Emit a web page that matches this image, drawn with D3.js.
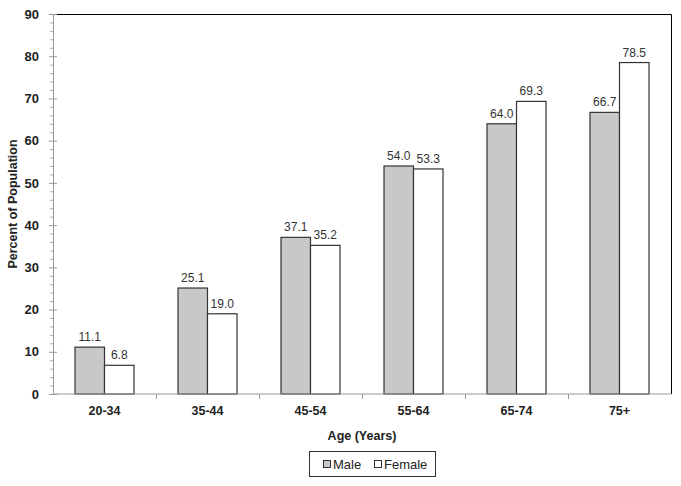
<!DOCTYPE html>
<html>
<head>
<meta charset="utf-8">
<script src="https://cdn.jsdelivr.net/npm/d3@7"></script>
<style>
  body { margin: 0; background: #fff; }
  svg { font-family: "Liberation Sans", Arial, sans-serif; }
</style>
</head>
<body>
<div id="main"></div>
<script>
var ageGroups = ['20-34', '35-44', '45-54', '55-64', '65-74', '75+'];
var seriesNames = ['Male', 'Female'];
var maleValues = [11.1, 25.1, 37.1, 54.0, 64.0, 66.7];
var femaleValues = [6.8, 19.0, 35.2, 53.3, 69.3, 78.5];
var yTicks = [0, 10, 20, 30, 40, 50, 60, 70, 80, 90];

var colors = { Male: '#c8c8c8', Female: '#ffffff' };

var W = 681, H = 486;
var margins = { top: 14, left: 53, right: 10, bottom: 92 };
var width = W - margins.left - margins.right,
    height = H - margins.top - margins.bottom;

var rows = ageGroups.map(function(g, i) {
    return { group: g, Male: maleValues[i], Female: femaleValues[i] };
});

var x0 = d3.scaleBand().domain(ageGroups).range([0, width]).padding(0);
var pairWidth = 59;
var x1 = d3.scaleBand().domain(seriesNames)
    .range([x0.bandwidth() / 2 - pairWidth / 2, x0.bandwidth() / 2 + pairWidth / 2]);
var y = d3.scaleLinear().domain([0, 90]).range([height, 0]);

var svg = d3.select('#main').append('svg')
    .attr('width', W).attr('height', H);
var chart = svg.append('g')
    .attr('transform', 'translate(' + margins.left + ',' + margins.top + ')');

// frame (top + right black)
chart.append('path')
    .attr('d', 'M0,0.5 L' + (width + 0.5) + ',0.5 L' + (width + 0.5) + ',' + height)
    .style('fill', 'none').style('stroke', '#000').style('stroke-width', 1);

// bars
var groups = chart.selectAll('.grp').data(rows).enter().append('g')
    .attr('class', 'grp')
    .attr('transform', function(d) { return 'translate(' + x0(d.group) + ',0)'; });

groups.selectAll('rect').data(function(d) {
    return seriesNames.map(function(s) { return { key: s, value: d[s] }; });
}).enter().append('rect')
    .attr('x', function(d) { return x1(d.key); })
    .attr('y', function(d) { return y(d.value); })
    .attr('width', x1.bandwidth())
    .attr('height', function(d) { return height - y(d.value); })
    .style('fill', function(d) { return colors[d.key]; })
    .style('stroke', '#333')
    .style('stroke-width', 1.2);

groups.selectAll('.val').data(function(d) {
    return seriesNames.map(function(s) { return { key: s, value: d[s] }; });
}).enter().append('text')
    .attr('class', 'val')
    .attr('x', function(d) { return x1(d.key) + x1.bandwidth() / 2; })
    .attr('y', function(d) { return y(d.value) - 6; })
    .style('text-anchor', 'middle')
    .style('font-size', '12px')
    .style('fill', '#333')
    .text(function(d) { return d.value.toFixed(1); });

// y axis
var yAxis = d3.axisLeft(y).tickValues(yTicks).tickSize(4).tickPadding(10);
var yg = chart.append('g').call(yAxis);
yg.select('.domain').style('stroke', '#999');
yg.selectAll('.tick line').attr('x2', 4).attr('x1', -4).style('stroke', '#999');
yg.selectAll('.tick text').style('font-size', '13px').style('font-weight', 'bold').style('fill', '#222');

var minor = d3.range(0, 90, 2).filter(function(v) { return v % 10 !== 0; });
chart.append('g').selectAll('line').data(minor).enter().append('line')
    .attr('x1', -3).attr('x2', 0)
    .attr('y1', function(d) { return y(d) + 0.5; })
    .attr('y2', function(d) { return y(d) + 0.5; })
    .style('stroke', '#aaa');

// x axis
var xg = chart.append('g').attr('transform', 'translate(0,' + height + ')');
xg.append('line').attr('x1', 0).attr('x2', width).attr('y1', 0).attr('y2', 0)
    .style('stroke', '#999');
xg.selectAll('.sep').data(ageGroups.slice(1)).enter().append('line')
    .attr('class', 'sep')
    .attr('x1', function(d) { return x0(d) + 0.5; })
    .attr('x2', function(d) { return x0(d) + 0.5; })
    .attr('y1', 0).attr('y2', 5)
    .style('stroke', '#999');
xg.selectAll('.lbl').data(ageGroups).enter().append('text')
    .attr('class', 'lbl')
    .attr('x', function(d) { return x0(d) + x0.bandwidth() / 2; })
    .attr('y', 21)
    .style('text-anchor', 'middle')
    .style('font-size', '12.5px').style('font-weight', 'bold').style('fill', '#222')
    .text(function(d) { return d; });

// axis titles
chart.append('text')
    .attr('x', width / 2).attr('y', height + 46)
    .style('text-anchor', 'middle')
    .style('font-size', '12.5px').style('font-weight', 'bold').style('fill', '#222')
    .text('Age (Years)');

chart.append('text')
    .attr('transform', 'rotate(-90)')
    .attr('x', -height / 2).attr('y', -36)
    .style('text-anchor', 'middle')
    .style('font-size', '12.5px').style('font-weight', 'bold').style('fill', '#222')
    .text('Percent of Population');

// legend
var legend = svg.append('g').attr('transform', 'translate(309,451)');
legend.append('rect').attr('x', 0.5).attr('y', 0.5).attr('width', 126).attr('height', 25)
    .style('fill', '#fff').style('stroke', '#333');
var legendX = [14, 65];
seriesNames.forEach(function(s, i) {
    legend.append('rect')
        .attr('x', legendX[i] + 0.5).attr('y', 9.5).attr('width', 7).attr('height', 7)
        .style('fill', colors[s]).style('stroke', '#333');
    legend.append('text')
        .attr('x', legendX[i] + 10).attr('y', 18)
        .style('font-size', '13px').style('fill', '#222')
        .text(s);
});
</script>
</body>
</html>
